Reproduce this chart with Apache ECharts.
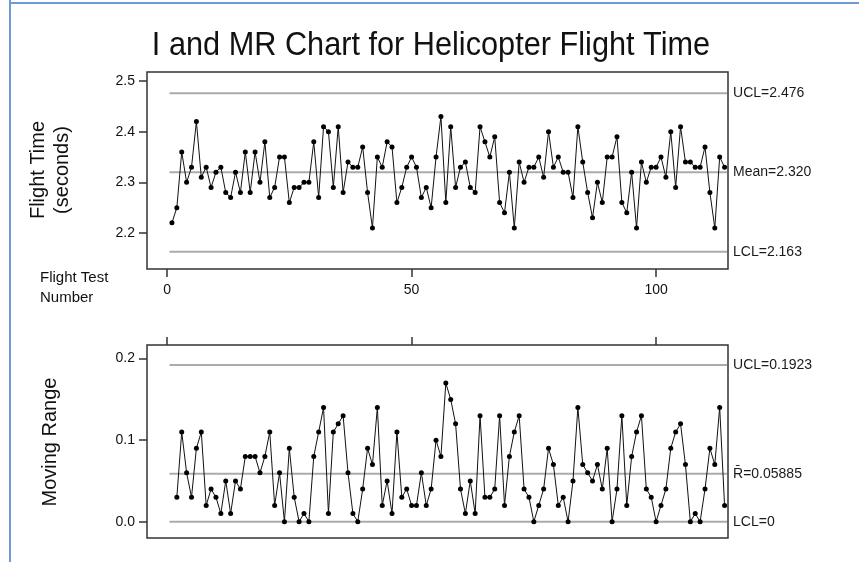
<!DOCTYPE html>
<html><head><meta charset="utf-8">
<script src="https://cdn.jsdelivr.net/npm/echarts@6/dist/echarts.min.js"></script>
<style>html,body{margin:0;padding:0;background:#fff}#c{width:859px;height:562px}</style>
</head><body><div id="c"></div>
<script>
// Individual flight times (seconds), test numbers 1..114
const flightTime = [
  2.22,2.25,2.36,2.30,2.33,2.42,2.31,2.33,2.29,2.32,
  2.33,2.28,2.27,2.32,2.28,2.36,2.28,2.36,2.30,2.38,
  2.27,2.29,2.35,2.35,2.26,2.29,2.29,2.30,2.30,2.38,
  2.27,2.41,2.40,2.29,2.41,2.28,2.34,2.33,2.33,2.37,
  2.28,2.21,2.35,2.33,2.38,2.37,2.26,2.29,2.33,2.35,
  2.33,2.27,2.29,2.25,2.35,2.43,2.26,2.41,2.29,2.33,
  2.34,2.29,2.28,2.41,2.38,2.35,2.39,2.26,2.24,2.32,
  2.21,2.34,2.30,2.33,2.33,2.35,2.31,2.40,2.33,2.35,
  2.32,2.32,2.27,2.41,2.34,2.28,2.23,2.30,2.26,2.35,
  2.35,2.39,2.26,2.24,2.32,2.21,2.34,2.30,2.33,2.33,
  2.35,2.31,2.40,2.29,2.41,2.34,2.34,2.33,2.33,2.37,
  2.28,2.21,2.35,2.33
];
// Moving ranges, test numbers 2..114
const movingRange = [
  0.03,0.11,0.06,0.03,0.09,0.11,0.02,0.04,0.03,0.01,
  0.05,0.01,0.05,0.04,0.08,0.08,0.08,0.06,0.08,0.11,
  0.02,0.06,0.00,0.09,0.03,0.00,0.01,0.00,0.08,0.11,
  0.14,0.01,0.11,0.12,0.13,0.06,0.01,0.00,0.04,0.09,
  0.07,0.14,0.02,0.05,0.01,0.11,0.03,0.04,0.02,0.02,
  0.06,0.02,0.04,0.10,0.08,0.17,0.15,0.12,0.04,0.01,
  0.05,0.01,0.13,0.03,0.03,0.04,0.13,0.02,0.08,0.11,
  0.13,0.04,0.03,0.00,0.02,0.04,0.09,0.07,0.02,0.03,
  0.00,0.05,0.14,0.07,0.06,0.05,0.07,0.04,0.09,0.00,
  0.04,0.13,0.02,0.08,0.11,0.13,0.04,0.03,0.00,0.02,
  0.04,0.09,0.11,0.12,0.07,0.00,0.01,0.00,0.04,0.09,
  0.07,0.14,0.02
];
const iLimitValues = [2.476, 2.320, 2.163];
const iLimitLabels = ['UCL=2.476', 'Mean=2.320', 'LCL=2.163'];
const mrLimitValues = [0.1923, 0.05885, 0];
const mrLimitLabels = ['UCL=0.1923', 'R\u0304=0.05885', 'LCL=0'];
const xTickValues = [0, 50, 100];
const iTickValues = [2.2, 2.3, 2.4, 2.5];
const mrTickValues = [0.0, 0.1, 0.2];

const n = flightTime.length;
const iData = flightTime.map((v, k) => [k + 1, v]);
const mrData = movingRange.map((v, k) => [k + 2, v]);
const lineStart = 0.5, lineEnd = n + 0.5;

const FONT = "'Liberation Sans', Arial, sans-serif";

function limitSeries(vals, labels, gi) {
  return vals.map((v, k) => ({
    type: 'line', xAxisIndex: gi, yAxisIndex: gi, silent: true,
    data: [[lineStart, v], [lineEnd, v]], symbol: 'none',
    lineStyle: { color: '#ababab', width: 2 }, z: 1,
    endLabel: { show: true, formatter: labels[k], distance: 6, color: '#1a1a1a',
      fontFamily: FONT, fontSize: 14 }
  }));
}
const pointStyle = {
  type: 'line', symbol: 'circle', symbolSize: 5,
  itemStyle: { color: '#000' }, lineStyle: { color: '#111', width: 1 }, z: 3
};
const tickStyle = { color: '#333', width: 1.5 };

const chart = echarts.init(document.getElementById('c'), null, { renderer: 'canvas' });
chart.setOption({
  animation: false,
  backgroundColor: '#fff',
  grid: [
    { left: 147, top: 72, width: 581, height: 197, show: true, borderColor: '#333', borderWidth: 1.5, backgroundColor: '#fff' },
    { left: 147, top: 345, width: 581, height: 193, show: true, borderColor: '#333', borderWidth: 1.5, backgroundColor: '#fff' }
  ],
  xAxis: [
    { gridIndex: 0, type: 'value', min: -4.1, max: 114.7, position: 'bottom',
      axisLine: { show: false, onZero: false }, splitLine: { show: false },
      axisTick: { show: true, inside: false, length: 8, lineStyle: tickStyle, customValues: xTickValues },
      axisLabel: { show: true, margin: 14, color: '#111', fontFamily: FONT, fontSize: 14, customValues: xTickValues } },
    { gridIndex: 1, type: 'value', min: -4.1, max: 114.7, position: 'top',
      axisLine: { show: false, onZero: false }, splitLine: { show: false },
      axisTick: { show: true, inside: false, length: 8, lineStyle: tickStyle, customValues: xTickValues },
      axisLabel: { show: false } }
  ],
  yAxis: [
    { gridIndex: 0, type: 'value', min: 2.1288, max: 2.518, position: 'left',
      axisLine: { show: false, onZero: false }, splitLine: { show: false },
      axisTick: { show: true, length: 8, lineStyle: tickStyle, customValues: iTickValues },
      axisLabel: { margin: 12, color: '#111', fontFamily: FONT, fontSize: 14, customValues: iTickValues,
        formatter: v => v.toFixed(1) } },
    { gridIndex: 1, type: 'value', min: -0.02, max: 0.2167, position: 'left',
      axisLine: { show: false, onZero: false }, splitLine: { show: false },
      axisTick: { show: true, length: 8, lineStyle: tickStyle, customValues: mrTickValues },
      axisLabel: { margin: 12, color: '#111', fontFamily: FONT, fontSize: 14, customValues: mrTickValues,
        formatter: v => v.toFixed(1) } }
  ],
  series: [
    ...limitSeries(iLimitValues, iLimitLabels, 0),
    ...limitSeries(mrLimitValues, mrLimitLabels, 1),
    Object.assign({ xAxisIndex: 0, yAxisIndex: 0, data: iData }, pointStyle),
    Object.assign({ xAxisIndex: 1, yAxisIndex: 1, data: mrData }, pointStyle)
  ],
  graphic: [
    { type: 'line', shape: { x1: 10, y1: 0, x2: 10, y2: 562 }, style: { stroke: '#6e9bd6', lineWidth: 2 } },
    { type: 'line', shape: { x1: 10, y1: 3, x2: 859, y2: 3 }, style: { stroke: '#6e9bd6', lineWidth: 2 } },
    { type: 'text', x: 431, y: 46, scaleX: 0.93, originX: 0, originY: 0,
      style: { text: 'I and MR Chart for Helicopter Flight Time', fontFamily: FONT, fontSize: 33, fill: '#111', align: 'center', verticalAlign: 'middle' } },
    { type: 'text', x: 38, y: 170, rotation: Math.PI / 2,
      style: { text: 'Flight Time', fontFamily: FONT, fontSize: 20, fill: '#111', align: 'center', verticalAlign: 'middle' } },
    { type: 'text', x: 62, y: 170, rotation: Math.PI / 2,
      style: { text: '(seconds)', fontFamily: FONT, fontSize: 20, fill: '#111', align: 'center', verticalAlign: 'middle' } },
    { type: 'text', x: 50, y: 442, rotation: Math.PI / 2,
      style: { text: 'Moving Range', fontFamily: FONT, fontSize: 20, fill: '#111', align: 'center', verticalAlign: 'middle' } },
    { type: 'text', x: 40, y: 278,
      style: { text: 'Flight Test', fontFamily: FONT, fontSize: 15, fill: '#111', align: 'left', verticalAlign: 'middle' } },
    { type: 'text', x: 40, y: 298,
      style: { text: 'Number', fontFamily: FONT, fontSize: 15, fill: '#111', align: 'left', verticalAlign: 'middle' } }
  ]
});
</script>
</body></html>
